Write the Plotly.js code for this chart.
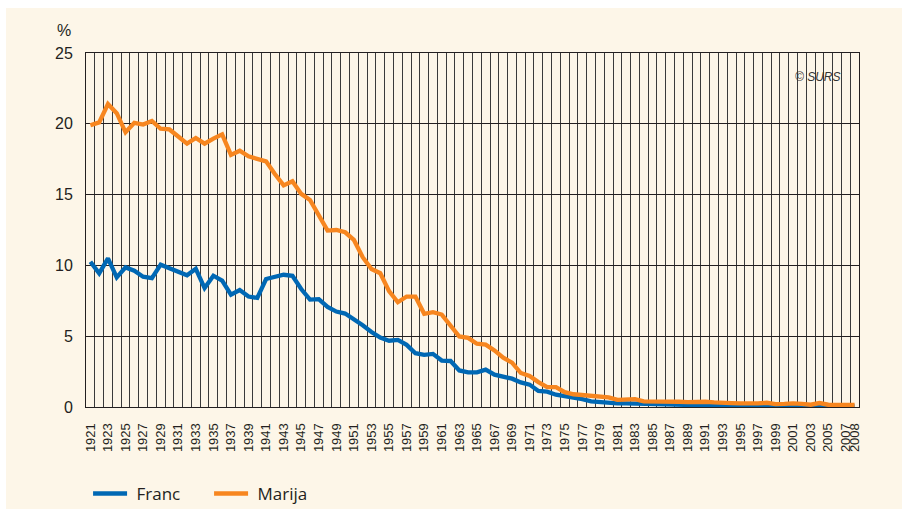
<!DOCTYPE html>
<html>
<head>
<meta charset="utf-8">
<script src="https://cdn.plot.ly/plotly-3.0.1.min.js"></script>
<style>
  html, body { margin: 0; padding: 0; background: #ffffff; width: 902px; height: 509px; overflow: hidden; }
  #chart { position: absolute; left: 6px; top: 8px; width: 896px; height: 501px; }
</style>
</head>
<body>
<div id="chart"></div>
<script>
var years = [];
for (var yr = 1921; yr <= 2008; yr++) years.push(yr);

var franc = [
  10.26, 9.44, 10.5, 9.15, 9.86, 9.62, 9.2, 9.1, 10.05, 9.8,
  9.55, 9.3, 9.76, 8.4, 9.27, 8.92, 7.93, 8.26, 7.8, 7.7,
  9.04, 9.2, 9.34, 9.27, 8.33, 7.59, 7.62, 7.07, 6.74, 6.6,
  6.2, 5.77, 5.3, 4.9, 4.68, 4.74, 4.39, 3.8, 3.68, 3.75,
  3.28, 3.25, 2.58, 2.44, 2.45, 2.64, 2.28, 2.16, 2.0, 1.74,
  1.58, 1.13, 1.08, 0.87, 0.78, 0.68, 0.55, 0.4, 0.34, 0.34,
  0.26, 0.25, 0.24, 0.18, 0.18, 0.16, 0.14, 0.14, 0.13, 0.13,
  0.07, 0.1, 0.08, 0.08, 0.07, 0.06, 0.07, 0.04, 0.04, 0.05,
  0.05, 0.05, 0.04, 0.05, 0.03, 0.03, 0.04, 0.04
];

var marija = [
  19.9, 20.1, 21.4, 20.75, 19.4, 20.07, 19.95, 20.2, 19.65, 19.6,
  19.1, 18.6, 19.0, 18.6, 18.95, 19.25, 17.8, 18.1, 17.7, 17.5,
  17.35, 16.45, 15.65, 15.94, 15.05, 14.62, 13.5, 12.46, 12.5, 12.34,
  11.8, 10.58, 9.75, 9.45, 8.18, 7.4, 7.8, 7.8, 6.58, 6.7,
  6.53, 5.8, 4.98, 4.88, 4.47, 4.4, 4.0, 3.48, 3.13, 2.4,
  2.19, 1.76, 1.41, 1.41, 1.05, 0.9, 0.85, 0.78, 0.7, 0.68,
  0.5, 0.52, 0.55, 0.4, 0.41, 0.37, 0.37, 0.37, 0.35, 0.37,
  0.37, 0.33, 0.28, 0.28, 0.26, 0.24, 0.25, 0.3, 0.21, 0.22,
  0.26, 0.22, 0.16, 0.28, 0.16, 0.15, 0.15, 0.15
];

var tickYears = [];
for (var t = 1921; t <= 2007; t += 2) tickYears.push(t);
tickYears.push(2008);
var tickLabels = tickYears.map(function (v) { return String(v); });

var yTicks = [0, 5, 10, 15, 20, 25];

// cell boundaries for the vertical grid (one cell per year)
var cellEdges = years.map(function (v) { return v - 0.5; });
cellEdges.push(years[years.length - 1] + 0.5);

var cream = '#fdf6e8';
var ink = '#231f20';

var traces = [
  { x: years, y: franc, type: 'scatter', mode: 'lines', name: ' Franc',
    line: { color: '#0068b4', width: 4.3 } },
  { x: years, y: marija, type: 'scatter', mode: 'lines', name: ' Marija',
    line: { color: '#f7861f', width: 4.3 } }
];

var layout = {
  width: 896, height: 501,
  paper_bgcolor: cream, plot_bgcolor: cream,
  margin: { l: 80, r: 42.5, t: 44.5, b: 102.3, pad: 0 },
  font: { family: 'Liberation Sans, Arial, sans-serif', color: ink },
  showlegend: true,
  legend: {
    orientation: 'h', xref: 'container', yref: 'container',
    x: 0.0916, y: 0.03, xanchor: 'left', yanchor: 'middle',
    font: { family: 'Open Sans, sans-serif', size: 17, color: ink },
    itemwidth: 34, entrywidth: 72, bgcolor: 'rgba(0,0,0,0)', borderwidth: 0,
    traceorder: 'normal'
  },
  xaxis: {
    range: [1920.5, 2008.5], tickmode: 'array', tickvals: tickYears, ticktext: tickLabels,
    tickangle: -90, tickfont: { size: 13, color: ink }, ticks: '', ticklabelstandoff: 10,
    showgrid: false, zeroline: false,
    showline: true, mirror: true, linecolor: ink, linewidth: 1,
    minor: { tickmode: 'array', tickvals: cellEdges, showgrid: true, gridcolor: '#3a3a3a', gridwidth: 1, ticks: '' },
    fixedrange: true
  },
  yaxis: {
    range: [0, 25], tickmode: 'array', tickvals: yTicks,
    tickfont: { size: 16, color: ink }, ticks: '', ticklabelstandoff: 9,
    showgrid: true, gridcolor: ink, gridwidth: 1, zeroline: false,
    showline: true, mirror: true, linecolor: ink, linewidth: 1,
    fixedrange: true
  },
  annotations: [
    { text: '%', xref: 'paper', yref: 'paper', x: -0.028, y: 1.0, xanchor: 'center', yanchor: 'bottom',
      yshift: 12, showarrow: false, font: { size: 16, color: ink } },
    { text: '<i>© SURS</i>', xref: 'paper', yref: 'paper', x: 0.9787, y: 0.932, xanchor: 'right', yanchor: 'middle',
      showarrow: false, font: { size: 12, color: '#333333', family: 'Liberation Sans, Arial, sans-serif' } },
    { text: 'leto', xref: 'container', yref: 'container', x: 856 / 896, y: (501 - 465) / 501, xanchor: 'right', yanchor: 'middle',
      showarrow: false, font: { size: 18, color: ink, family: 'Open Sans, sans-serif' } }
  ]
};

Plotly.newPlot('chart', traces, layout, { displayModeBar: false, staticPlot: true });
</script>
</body>
</html>
